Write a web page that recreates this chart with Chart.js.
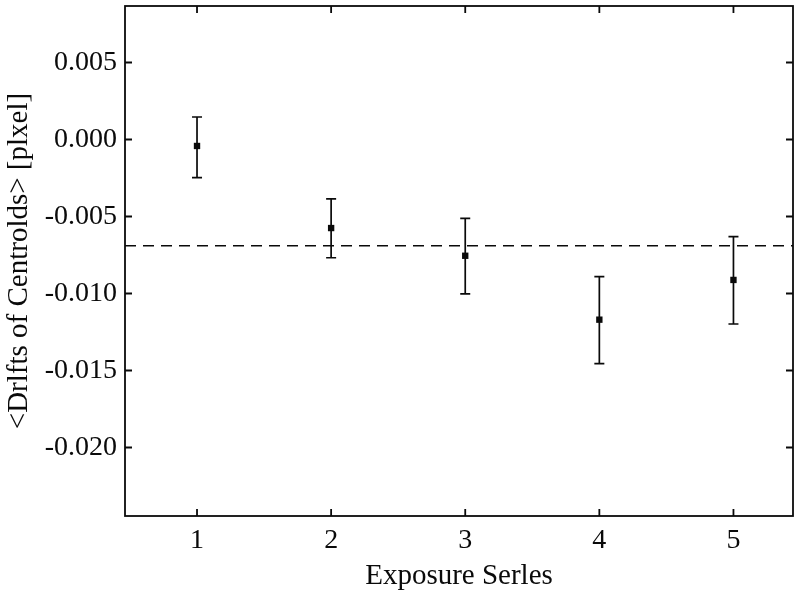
<!DOCTYPE html>
<html>
<head>
<meta charset="utf-8">
<script src="https://cdn.jsdelivr.net/npm/chart.js@4"></script>
<style>
  body { margin: 0; background: #fff; }
  #wrap { width: 800px; height: 591px; }
</style>
</head>
<body>
<div id="wrap"><canvas id="myChart"></canvas></div>
<script>
// values
const series = [1, 2, 3, 4, 5];
const drift = [-0.00042, -0.00575, -0.00755, -0.0117, -0.00912];
const errUpper = [0.00146, -0.00386, -0.00512, -0.00891, -0.00631];
const errLower = [-0.00248, -0.00768, -0.01003, -0.01456, -0.01198];
const meanDrift = -0.0069;
const yTicks = [-0.020, -0.015, -0.010, -0.005, 0.000, 0.005];
const xRange = [0.463, 5.444];
const yRange = [-0.02445, 0.00867];

const ink = "#0a0a0a";
const serif = "'Liberation Serif', 'Times New Roman', serif";

// vertical error bars with caps
const errorBars = {
    id: "errorBars",
    afterDatasetsDraw(chart) {
        const { ctx, scales: { x, y } } = chart;
        ctx.save();
        ctx.strokeStyle = ink;
        ctx.lineWidth = 1.7;
        series.forEach((s, i) => {
            const px = x.getPixelForValue(s);
            const top = y.getPixelForValue(errUpper[i]);
            const bot = y.getPixelForValue(errLower[i]);
            ctx.beginPath();
            ctx.moveTo(px, top); ctx.lineTo(px, bot);
            ctx.moveTo(px - 5, top); ctx.lineTo(px + 5, top);
            ctx.moveTo(px - 5, bot); ctx.lineTo(px + 5, bot);
            ctx.stroke();
        });
        ctx.restore();
    }
};

// box around the plot with inward ticks on all four sides
const frame = {
    id: "frame",
    afterDraw(chart) {
        const { ctx, chartArea: a, scales: { x, y } } = chart;
        const len = 7;
        ctx.save();
        ctx.strokeStyle = ink;
        ctx.lineWidth = 1.8;
        ctx.strokeRect(a.left, a.top, a.right - a.left, a.bottom - a.top);
        ctx.beginPath();
        x.ticks.forEach(t => {
            const px = x.getPixelForValue(t.value);
            ctx.moveTo(px, a.bottom); ctx.lineTo(px, a.bottom - len);
            ctx.moveTo(px, a.top); ctx.lineTo(px, a.top + len);
        });
        y.ticks.forEach(t => {
            const py = y.getPixelForValue(t.value);
            ctx.moveTo(a.left, py); ctx.lineTo(a.left + len, py);
            ctx.moveTo(a.right, py); ctx.lineTo(a.right - len, py);
        });
        ctx.stroke();
        ctx.restore();
    }
};

function noPad(scale) {
    scale.paddingTop = 0;
    scale.paddingBottom = 0;
    scale.paddingLeft = 0;
    scale.paddingRight = 0;
}

const ctx = document.getElementById("myChart").getContext("2d");
new Chart(ctx, {
    type: "scatter",
    data: {
        datasets: [
            {
                label: "mean",
                type: "line",
                data: xRange.map(v => ({ x: v, y: meanDrift })),
                borderColor: ink,
                borderWidth: 1.6,
                borderDash: [11, 7],
                pointRadius: 0,
                fill: false
            },
            {
                label: "drift",
                data: series.map((s, i) => ({ x: s, y: drift[i] })),
                pointStyle: "rect",
                pointRadius: 4.5,
                backgroundColor: ink,
                borderColor: ink,
                borderWidth: 0
            }
        ]
    },
    options: {
        responsive: true,
        maintainAspectRatio: false,
        animation: false,
        layout: { padding: { top: 6, right: 7, left: 0, bottom: 0 } },
        plugins: {
            legend: { display: false },
            tooltip: { enabled: false }
        },
        scales: {
            x: {
                type: "linear",
                min: xRange[0],
                max: xRange[1],
                afterBuildTicks: scale => { scale.ticks = series.map(v => ({ value: v })); },
                afterFit: scale => { scale.height = 75; noPad(scale); },
                grid: { display: false, drawTicks: false },
                border: { display: false },
                ticks: {
                    color: ink,
                    padding: 8,
                    font: { family: serif, size: 28 },
                    callback: v => String(v)
                },
                title: {
                    display: true,
                    text: "Exposure Serles",
                    color: ink,
                    padding: { top: 0, bottom: 0 },
                    font: { family: serif, size: 29, lineHeight: 1 }
                }
            },
            y: {
                min: yRange[0],
                max: yRange[1],
                afterBuildTicks: scale => { scale.ticks = yTicks.map(v => ({ value: v })); },
                afterFit: scale => { scale.width = 125; noPad(scale); },
                grid: { display: false, drawTicks: false },
                border: { display: false },
                ticks: {
                    color: ink,
                    padding: 8,
                    font: { family: serif, size: 28 },
                    callback: v => v.toFixed(3)
                },
                title: {
                    display: true,
                    text: "<Drlfts of Centrolds> [plxel]",
                    color: ink,
                    padding: { top: 5, bottom: 0 },
                    font: { family: serif, size: 29, lineHeight: 1 }
                }
            }
        }
    },
    plugins: [errorBars, frame]
});
</script>
</body>
</html>
